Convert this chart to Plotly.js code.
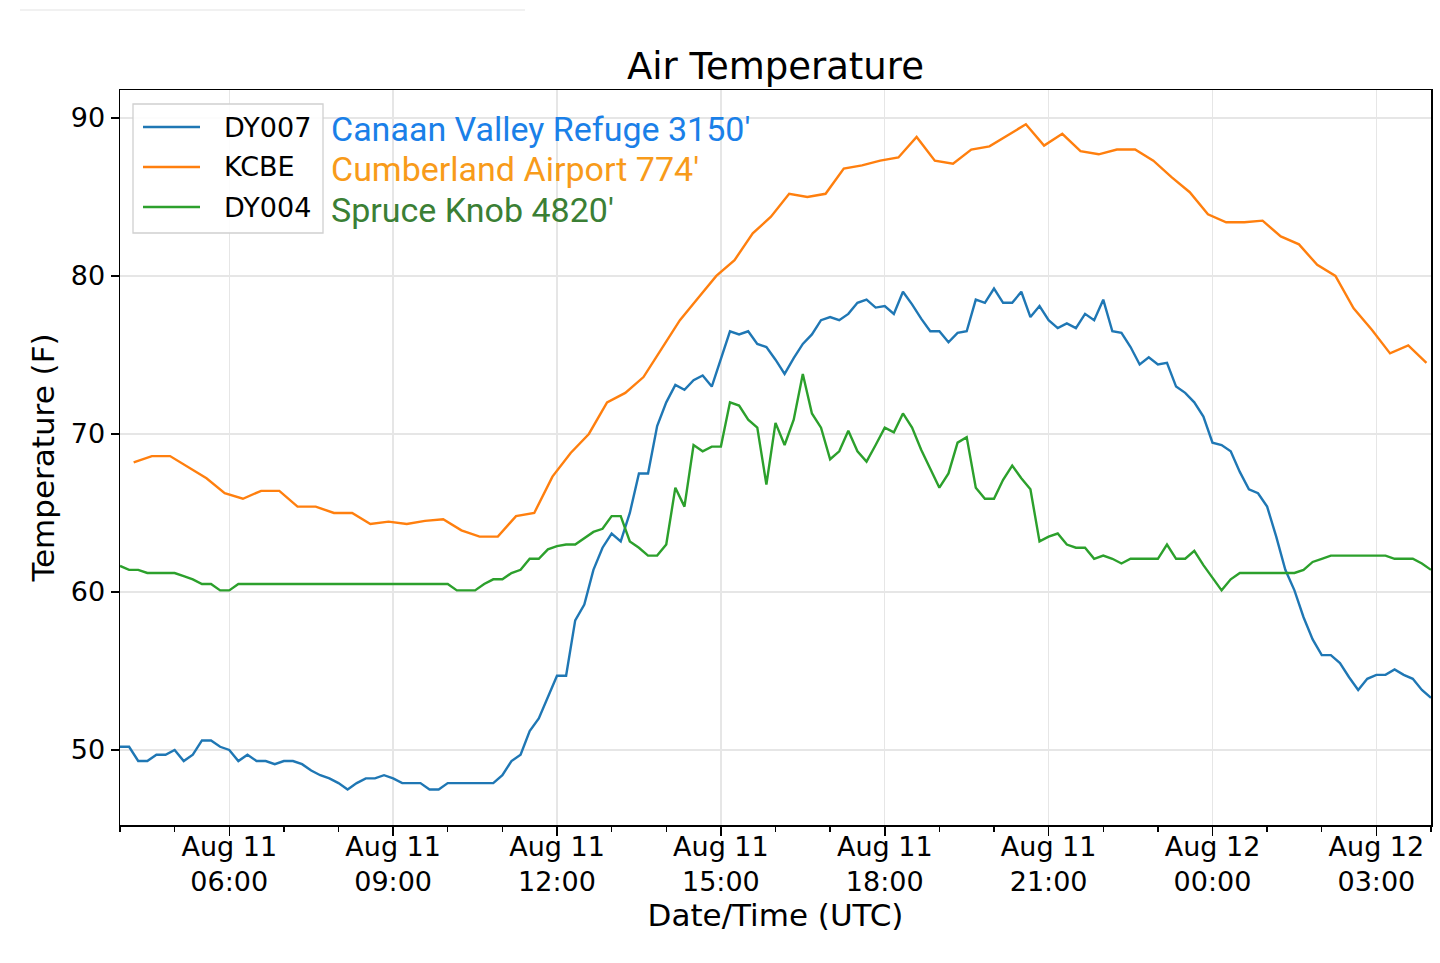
<!DOCTYPE html>
<html>
<head>
<meta charset="utf-8">
<script src="https://cdn.plot.ly/plotly-3.0.1.min.js"></script>
<style>
    body { margin: 0; background: #fff; }
    #plotter { width: 1440px; height: 963px; }
</style>
</head>
<body>
<div id="plotter"></div>
<script>
// station samples, 10 minute steps from Aug 11 04:00 UTC
var dy007Start = "2019-08-11 04:00";
var dy007Temp = [
    50.2, 50.2, 49.3, 49.3, 49.7, 49.7, 50.0, 49.3, 49.7, 50.6,
    50.6, 50.2, 50.0, 49.3, 49.7, 49.3, 49.3, 49.1, 49.3, 49.3,
    49.1, 48.7, 48.4, 48.2, 47.9, 47.5, 47.9, 48.2, 48.2, 48.4,
    48.2, 47.9, 47.9, 47.9, 47.5, 47.5, 47.9, 47.9, 47.9, 47.9,
    47.9, 47.9, 48.4, 49.3, 49.7, 51.2, 52.0, 53.3, 54.7, 54.7,
    58.2, 59.2, 61.4, 62.8, 63.7, 63.2, 65.0, 67.5, 67.5, 70.5,
    72.0, 73.1, 72.8, 73.4, 73.7, 73.0, 74.8, 76.5, 76.3, 76.5,
    75.7, 75.5, 74.7, 73.8, 74.8, 75.7, 76.3, 77.2, 77.4, 77.2,
    77.6, 78.3, 78.5, 78.0, 78.1, 77.6, 79.0, 78.2, 77.3, 76.5,
    76.5, 75.8, 76.4, 76.5, 78.5, 78.3, 79.2, 78.3, 78.3, 79.0,
    77.4, 78.1, 77.2, 76.7, 77.0, 76.7, 77.6, 77.2, 78.5, 76.5,
    76.4, 75.5, 74.4, 74.85, 74.4, 74.5, 73.0, 72.6, 72.0, 71.1,
    69.45, 69.3, 68.9, 67.6, 66.5, 66.25, 65.4, 63.5, 61.4, 60.1,
    58.4, 57.0, 56.0, 56.0, 55.5, 54.6, 53.8, 54.5, 54.75, 54.75,
    55.1, 54.75, 54.5, 53.8, 53.3
];

var dy004Start = "2019-08-11 04:00";
var dy004Temp = [
    61.65, 61.4, 61.4, 61.2, 61.2, 61.2, 61.2, 61.0, 60.8, 60.5,
    60.5, 60.1, 60.1, 60.5, 60.5, 60.5, 60.5, 60.5, 60.5, 60.5,
    60.5, 60.5, 60.5, 60.5, 60.5, 60.5, 60.5, 60.5, 60.5, 60.5,
    60.5, 60.5, 60.5, 60.5, 60.5, 60.5, 60.5, 60.1, 60.1, 60.1,
    60.5, 60.8, 60.8, 61.2, 61.4, 62.1, 62.1, 62.7, 62.9, 63.0,
    63.0, 63.4, 63.8, 64.0, 64.8, 64.8, 63.2, 62.8, 62.3, 62.3,
    63.0, 66.6, 65.4, 69.3, 68.9, 69.2, 69.2, 72.0, 71.8, 70.9,
    70.4, 66.8, 70.7, 69.3, 70.9, 73.8, 71.3, 70.4, 68.4, 68.9,
    70.2, 68.9, 68.25, 69.3, 70.4, 70.1, 71.3, 70.4, 69.0, 67.8,
    66.6, 67.5, 69.45, 69.8, 66.6, 65.9, 65.9, 67.1, 68.0, 67.2,
    66.5, 63.2, 63.5, 63.7, 63.0, 62.8, 62.8, 62.1, 62.3, 62.1,
    61.8, 62.1, 62.1, 62.1, 62.1, 63.0, 62.1, 62.1, 62.6, 61.7,
    60.9, 60.1, 60.8, 61.2, 61.2, 61.2, 61.2, 61.2, 61.2, 61.2,
    61.4, 61.9, 62.1, 62.3, 62.3, 62.3, 62.3, 62.3, 62.3, 62.3,
    62.1, 62.1, 62.1, 61.8, 61.4
];

// airport obs every 20 minutes from 04:15
var kcbeStart = "2019-08-11 04:15";
var kcbeTemp = [
    68.2, 68.6, 68.6, 67.9, 67.2, 66.25, 65.9, 66.4, 66.4, 65.4,
    65.4, 65.0, 65.0, 64.3, 64.45, 64.3, 64.5, 64.6, 63.9, 63.5,
    63.5, 64.8, 65.0, 67.3, 68.8, 70.0, 72.0, 72.6, 73.6, 75.4,
    77.2, 78.6, 80.0, 81.0, 82.7, 83.75, 85.2, 85.0, 85.2, 86.8,
    87.0, 87.3, 87.5, 88.8, 87.3, 87.1, 88.0, 88.2, 88.9, 89.6,
    88.25, 89.0, 87.9, 87.7, 88.0, 88.0, 87.3, 86.25, 85.3, 83.9,
    83.4, 83.4, 83.5, 82.5, 82.0, 80.7, 80.0, 77.95, 76.6, 75.1,
    75.6, 74.5
];

var stationIds = ["DY007", "KCBE", "DY004"];
var stationNames = ["Canaan Valley Refuge 3150'", "Cumberland Airport 774'", "Spruce Knob 4820'"];
var lineColors = ["#1f77b4", "#ff7f0e", "#2ca02c"];
var nameColors = ["#1a80e8", "#f89b1a", "#3b7f35"];

var TEN_MIN = 10 * 60 * 1000;
var tickFont = "DejaVu Sans, Liberation Sans, sans-serif";

function mkTrace(start, step, temps, i) {
    return {
        x0: start,
        dx: step,
        y: temps,
        type: "scatter",
        mode: "lines",
        name: stationIds[i],
        line: { color: lineColors[i], width: 2.4 },
        showlegend: false
    };
}

var data = [
    mkTrace(dy007Start, TEN_MIN, dy007Temp, 0),
    mkTrace(kcbeStart, 2 * TEN_MIN, kcbeTemp, 1),
    mkTrace(dy004Start, TEN_MIN, dy004Temp, 2)
];

// hand made legend box, matplotlib style
var px = function (p) { return (p - 120) / 1311; };
var py = function (p) { return (825 - p) / 735; };

var shapes = [{
    type: "rect", xref: "paper", yref: "paper", layer: "above",
    x0: px(133), x1: px(323), y0: py(233), y1: py(104),
    line: { color: "#d0d0d0", width: 1.3 },
    fillcolor: "rgba(255,255,255,0.85)"
}, {
    // faint strip left over at the top of the screenshot
    type: "line", xref: "paper", yref: "paper",
    x0: px(20), x1: px(525), y0: py(10), y1: py(10),
    line: { color: "#ececec", width: 1.5 }
}];
var annotations = [];
var rowY = [127, 167, 207];
var nameY = [129, 169, 210];

for (var i = 0; i < stationIds.length; i++) {
    shapes.push({
        type: "line", xref: "paper", yref: "paper", layer: "above",
        x0: px(143), x1: px(200), y0: py(rowY[i]), y1: py(rowY[i]),
        line: { color: lineColors[i], width: 2.4 }
    });
    annotations.push({
        xref: "paper", yref: "paper", x: px(222), y: py(rowY[i]),
        xanchor: "left", yanchor: "middle", showarrow: false,
        text: stationIds[i],
        font: { family: tickFont, size: 27, color: "#000" }
    });
    annotations.push({
        xref: "paper", yref: "paper", x: px(329), y: py(nameY[i]),
        xanchor: "left", yanchor: "middle", showarrow: false,
        text: stationNames[i],
        font: { family: "Roboto, sans-serif", size: 34, color: nameColors[i] }
    });
}

var layout = {
    width: 1440,
    height: 963,
    paper_bgcolor: "#fff",
    plot_bgcolor: "#fff",
    margin: { l: 120, r: 9, t: 90, b: 138 },
    title: {
        text: "Air Temperature",
        font: { family: tickFont, size: 37, color: "#000" },
        x: 0.5, xref: "paper",
        y: 1 - 66 / 963, yref: "container", yanchor: "middle"
    },
    xaxis: {
        type: "date",
        range: ["2019-08-11 04:00", "2019-08-12 04:00"],
        tick0: "2019-08-11 00:00",
        dtick: 3 * 3600 * 1000,
        tickformat: "%b %d<br>%H:%M",
        tickfont: { family: tickFont, size: 27, color: "#000" },
        ticklabelstandoff: -12,
        ticks: "outside", ticklen: 9, tickwidth: 1.5, tickcolor: "#000",
        minor: { dtick: 3600 * 1000, ticks: "outside", ticklen: 5, tickwidth: 1.3, tickcolor: "#000", showgrid: false },
        showgrid: true, gridcolor: "#e6e6e6", gridwidth: 1.3,
        showline: true, linecolor: "#000", linewidth: 1.5, mirror: true,
        zeroline: false,
        title: {
            text: "Date/Time (UTC)",
            font: { family: tickFont, size: 31, color: "#000" },
            standoff: 5
        }
    },
    yaxis: {
        range: [45.25, 91.77],
        tickvals: [50, 60, 70, 80, 90],
        tickfont: { family: tickFont, size: 27, color: "#000" },
        ticks: "outside", ticklen: 8, tickwidth: 1.5, tickcolor: "#000",
        showgrid: true, gridcolor: "#e6e6e6", gridwidth: 1.3,
        showline: true, linecolor: "#000", linewidth: 1.5, mirror: true,
        zeroline: false,
        title: {
            text: "Temperature (F)",
            font: { family: tickFont, size: 31, color: "#000" },
            standoff: 7
        }
    },
    shapes: shapes,
    annotations: annotations,
    showlegend: false
};

Plotly.newPlot("plotter", data, layout, { staticPlot: true });
</script>
</body>
</html>
